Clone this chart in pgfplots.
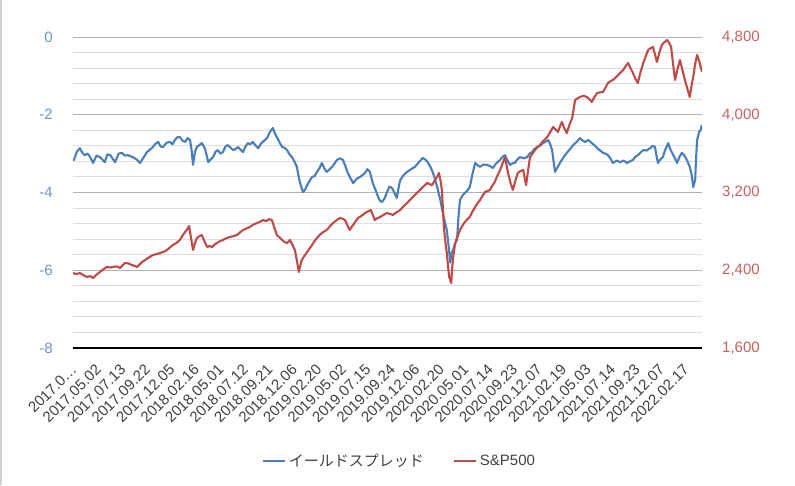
\documentclass[border=0pt]{standalone}
\usepackage{fontspec}
\setmainfont{Liberation Sans}
\newfontfamily\cjk{Noto Sans CJK JP}
\usepackage{pgfplots}
\usepackage{pgfplotstable}
\pgfplotsset{compat=1.18}
\definecolor{sblue}{HTML}{4A7EBB}
\definecolor{sred}{HTML}{BE4B48}
\definecolor{lblue}{HTML}{6E93C8}
\definecolor{lred}{HTML}{C86060}
\definecolor{txt}{HTML}{404040}
\pgfplotstableread{
x y
0 -3.16
2 -3.16
8 -2.95
14 -2.86
19 -2.98
24 -3.04
30 -3.00
35 -3.09
41 -3.24
48 -3.05
55 -3.09
65 -3.22
70 -3.02
76 -3.04
86 -3.22
93 -3.00
100 -2.98
106 -3.05
112 -3.04
122 -3.09
130 -3.15
137 -3.24
144 -3.10
151 -2.96
157 -2.90
163 -2.83
168 -2.75
174 -2.70
179 -2.82
184 -2.83
191 -2.72
198 -2.70
203 -2.76
208 -2.65
213 -2.58
218 -2.57
223 -2.66
229 -2.70
234 -2.60
239 -2.65
242 -2.90
245 -3.29
249 -2.95
253 -2.83
258 -2.78
263 -2.73
269 -2.86
273 -3.05
276 -3.22
281 -3.15
286 -3.09
291 -2.95
296 -2.91
301 -3.00
306 -2.96
311 -2.82
316 -2.78
322 -2.85
327 -2.91
332 -2.88
337 -2.83
342 -2.90
347 -2.96
352 -2.82
357 -2.73
362 -2.76
367 -2.70
372 -2.78
378 -2.86
385 -2.72
392 -2.65
397 -2.58
402 -2.44
408 -2.34
412 -2.48
416 -2.57
422 -2.72
427 -2.83
432 -2.85
437 -2.91
442 -3.02
447 -3.09
452 -3.20
457 -3.34
460 -3.55
463 -3.73
467 -3.90
470 -3.99
474 -3.92
478 -3.81
483 -3.70
488 -3.60
493 -3.58
498 -3.47
503 -3.38
508 -3.24
513 -3.38
518 -3.47
524 -3.40
529 -3.34
534 -3.25
539 -3.16
545 -3.12
551 -3.16
556 -3.32
561 -3.50
566 -3.62
572 -3.76
579 -3.65
586 -3.60
591 -3.55
596 -3.50
601 -3.40
606 -3.47
612 -3.76
618 -3.95
623 -4.12
627 -4.22
631 -4.24
636 -4.15
641 -3.99
646 -3.85
651 -3.88
656 -4.00
661 -4.14
665 -3.85
668 -3.68
675 -3.55
682 -3.47
690 -3.40
698 -3.34
706 -3.22
714 -3.11
720 -3.16
725 -3.24
730 -3.35
735 -3.50
740 -3.70
745 -3.94
750 -4.20
755 -4.53
759 -4.75
763 -4.97
767 -5.40
770 -5.80
773 -5.55
776 -5.48
780 -5.30
784 -5.22
787 -4.60
790 -4.19
795 -4.08
800 -4.01
805 -3.95
810 -3.86
815 -3.55
821 -3.24
826 -3.30
831 -3.34
838 -3.28
845 -3.29
851 -3.32
857 -3.37
864 -3.25
872 -3.16
877 -3.08
882 -3.04
887 -3.18
892 -3.29
897 -3.25
902 -3.24
907 -3.15
912 -3.09
920 -3.12
927 -3.09
932 -3.00
937 -2.96
942 -2.88
947 -2.83
953 -2.80
959 -2.73
964 -2.70
970 -2.65
974 -2.75
978 -2.91
981 -3.20
984 -3.47
989 -3.35
994 -3.24
1001 -3.10
1008 -2.98
1015 -2.88
1021 -2.78
1028 -2.70
1035 -2.60
1040 -2.66
1045 -2.70
1052 -2.65
1059 -2.73
1064 -2.78
1070 -2.86
1076 -2.92
1082 -2.98
1087 -3.00
1092 -3.04
1097 -3.12
1102 -3.24
1110 -3.18
1117 -3.22
1124 -3.18
1131 -3.24
1137 -3.20
1143 -3.16
1148 -3.08
1153 -3.04
1158 -2.98
1164 -2.91
1171 -2.92
1178 -2.86
1183 -2.80
1188 -2.83
1191 -3.05
1194 -3.24
1199 -3.15
1204 -3.09
1209 -2.90
1215 -2.73
1219 -2.88
1223 -2.98
1228 -3.10
1233 -3.24
1238 -3.08
1243 -2.98
1248 -3.05
1253 -3.16
1256 -3.25
1259 -3.34
1263 -3.55
1266 -3.86
1270 -3.68
1272 -3.10
1274 -2.65
1276 -2.55
1278 -2.44
1281 -2.40
1284 -2.26
}\spread
\pgfplotstableread{
x y
0 2372
7 2360
14 2372
21 2350
29 2331
35 2340
41 2320
48 2355
55 2382
62 2410
69 2434
75 2428
82 2434
89 2440
96 2423
101 2450
106 2475
113 2470
120 2454
126 2445
131 2434
136 2460
141 2485
147 2505
153 2526
158 2540
163 2557
170 2565
178 2578
185 2590
192 2608
198 2635
204 2660
211 2680
218 2711
224 2760
229 2794
233 2820
237 2855
241 2730
245 2608
249 2680
253 2732
258 2750
263 2763
268 2700
274 2639
279 2650
284 2639
289 2665
294 2680
300 2700
306 2711
313 2730
320 2742
327 2750
335 2763
341 2790
347 2814
354 2830
361 2845
368 2870
376 2886
382 2900
388 2917
394 2905
400 2925
406 2917
411 2840
416 2763
421 2740
427 2711
432 2690
437 2680
443 2711
448 2660
453 2608
457 2500
461 2382
464 2450
467 2506
472 2545
478 2588
483 2625
488 2660
493 2700
498 2732
503 2760
508 2783
513 2800
518 2814
524 2850
531 2886
538 2915
545 2938
550 2930
555 2917
560 2865
565 2814
568 2840
572 2866
577 2905
582 2938
589 2960
596 2989
602 3005
608 3020
612 2970
616 2917
621 2935
627 2948
634 2970
641 2989
647 2980
653 2969
660 2995
668 3020
675 3060
682 3092
688 3125
694 3154
701 3190
708 3226
715 3260
723 3298
728 3285
733 3277
738 3320
743 3360
747 3401
750 3330
753 3226
755 3050
757 2845
760 2700
763 2578
766 2420
768 2331
770 2300
772 2269
774 2420
776 2536
779 2640
782 2711
786 2760
790 2814
795 2860
800 2897
805 2925
810 2948
815 3000
821 3051
826 3090
831 3123
836 3165
841 3205
846 3215
851 3226
856 3270
861 3308
866 3370
872 3432
877 3500
882 3565
885 3480
888 3401
893 3300
898 3226
903 3320
908 3401
913 3420
919 3432
922 3350
925 3277
929 3430
933 3565
938 3600
943 3637
948 3665
953 3689
960 3730
968 3771
974 3820
980 3874
985 3850
990 3823
994 3880
998 3925
1003 3860
1008 3812
1013 3890
1019 3967
1022 4060
1025 4152
1030 4170
1035 4183
1042 4195
1049 4183
1054 4160
1059 4131
1064 4180
1070 4224
1076 4230
1082 4234
1087 4280
1092 4327
1097 4345
1102 4358
1108 4385
1113 4409
1118 4435
1123 4460
1128 4500
1133 4532
1138 4480
1143 4430
1148 4370
1153 4327
1158 4430
1164 4532
1169 4600
1174 4666
1179 4685
1184 4697
1188 4620
1192 4543
1197 4640
1202 4718
1207 4745
1213 4769
1217 4740
1221 4697
1225 4520
1229 4358
1234 4470
1239 4563
1244 4460
1249 4358
1254 4270
1259 4183
1262 4280
1266 4388
1270 4520
1274 4615
1279 4540
1284 4440
}\spx
\begin{document}
\begin{tikzpicture}
\path[use as bounding box] (0,0) rectangle (795pt,485pt);
\draw[gray!35, line width=1.5pt] (0.75pt,0) -- (0.75pt,485pt);
\pgfplotsset{
  base/.style={
    at={(73pt,137pt)}, anchor=south west,
    scale only axis, width=629pt, height=311pt,
    xmin=0, xmax=1284,
    major tick length=0pt, minor tick length=0pt,
    /pgf/number format/assume math mode=true,
    tick label style={font=\fontsize{15}{18}\selectfont},
  }
}
\begin{axis}[base,
  ymin=-8, ymax=0, ytick={-8,-6,-4,-2,0},
  minor y tick num=4,
  ymajorgrids, yminorgrids,
  major grid style={draw=black!30, line width=0.9pt},
  minor grid style={draw=black!13, line width=0.9pt},
  axis x line*=bottom, axis y line*=left,
  y axis line style={draw=none},
  x axis line style={draw=black, line width=1.3pt},
  xtick={0,50,...,1250},
  xticklabels={2017.0…,2017.05.02,2017.07.13,2017.09.22,2017.12.05,2018.02.16,2018.05.01,2018.07.12,2018.09.21,2018.12.06,2019.02.20,2019.05.02,2019.07.15,2019.09.24,2019.12.06,2020.02.20,2020.05.01,2020.07.14,2020.09.23,2020.12.07,2021.02.19,2021.05.03,2021.07.14,2021.09.23,2021.12.07,2022.02.17},
  xticklabel style={xshift=1pt, yshift=-19pt, rotate=45, anchor=east, inner sep=0pt, text=txt},
  yticklabel style={inner sep=0pt, xshift=-20pt, text=lblue},
  /pgf/number format/fixed,
]
\addplot[sblue, line width=2.1pt, line join=round] table[x=x,y=y] {\spread};
\end{axis}
\begin{axis}[base,
  ymin=1600, ymax=4800, ytick={1600,2400,3200,4000,4800},
  axis x line=none, axis y line*=right,
  y axis line style={draw=none},
  yticklabel style={inner sep=0pt, xshift=20pt, text=lred, anchor=west},
  /pgf/number format/.cd, 1000 sep={,}, /pgfplots/.cd,
  legend style={at={(0.52,-0.363)}, anchor=center, draw=none, fill=none,
    font=\fontsize{15}{18}\selectfont, text=txt,
    /tikz/every even column/.append style={column sep=26pt},
    nodes={inner sep=3pt}},
  legend columns=2,
  legend image code/.code={\draw[#1] (0pt,0pt) -- (22pt,0pt);},
]
\addlegendimage{sblue, line width=1.7pt}
\addlegendentry{\cjk イールドスプレッド}
\addplot[sred, line width=2.1pt, line join=round] table[x=x,y=y] {\spx};
\addlegendentry{S\&P500}
\end{axis}
\end{tikzpicture}
\end{document}
